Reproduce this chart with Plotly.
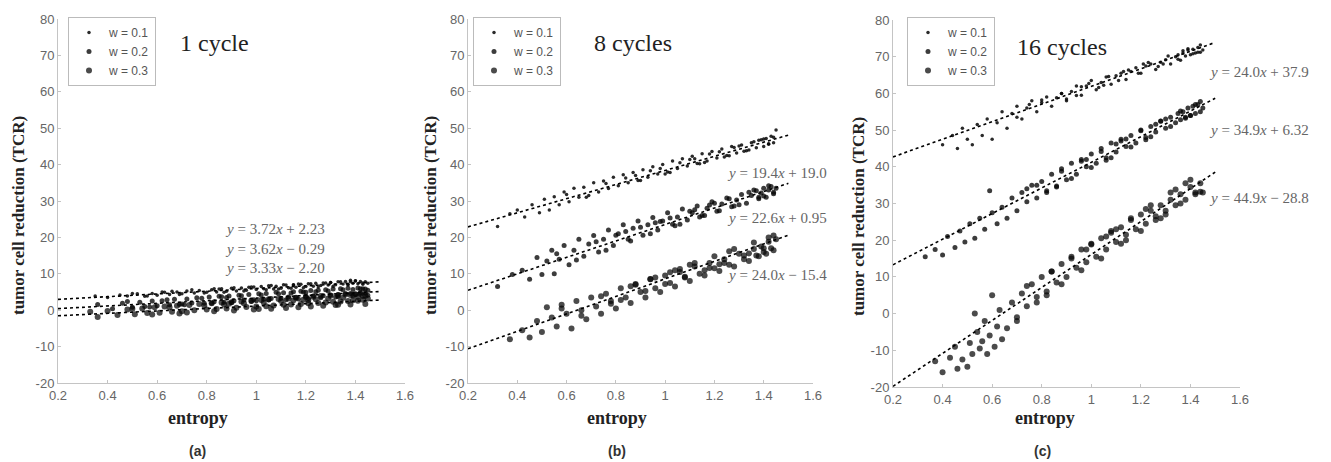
import plotly.graph_objects as go

# ---------------- data ----------------
weights = ["w = 0.1", "w = 0.2", "w = 0.3"]
panel_titles = ["1 cycle", "8 cycles", "16 cycles"]
panel_tags = ["(a)", "(b)", "(c)"]

x_ticks = [0.2, 0.4, 0.6, 0.8, 1.0, 1.2, 1.4, 1.6]
x_tick_labels = ["0.2", "0.4", "0.6", "0.8", "1", "1.2", "1.4", "1.6"]
y_ticks = [-20, -10, 0, 10, 20, 30, 40, 50, 60, 70, 80]
y_tick_labels = ["-20", "-10", "0", "10", "20", "30", "40", "50", "60", "70", "80"]

# fitted lines: slope, intercept (from the equations on the chart)
fit_a = [(3.72, 2.23), (3.62, -0.29), (3.33, -2.20)]
fit_b = [(19.4, 19.0), (22.6, 0.95), (24.0, -15.4)]
fit_c = [(24.0, 37.9), (34.9, 6.32), (44.9, -28.8)]
fit_x_range = [0.2, 1.5]

eq_a = ["<i>y</i> = 3.72<i>x</i> + 2.23", "<i>y</i> = 3.62<i>x</i> − 0.29", "<i>y</i> = 3.33<i>x</i> − 2.20"]
eq_b = ["<i>y</i> = 19.4<i>x</i> + 19.0", "<i>y</i> = 22.6<i>x</i> + 0.95", "<i>y</i> = 24.0<i>x</i> − 15.4"]
eq_c = ["<i>y</i> = 24.0<i>x</i> + 37.9", "<i>y</i> = 34.9<i>x</i> + 6.32", "<i>y</i> = 44.9<i>x</i> − 28.8"]

# ---- panel (a): 1 cycle ----
a1_x = [0.35,0.40,0.45,0.48,0.52,0.55,0.58,0.60,0.63,0.65,0.68,0.70,0.72,0.75,0.77,0.80,0.82,0.84,0.86,0.88,0.90,0.92,0.94,0.96,0.98,1.00,1.02,1.03,1.05,1.07,1.08,1.10,1.12,1.13,1.15,1.16,1.18,1.20,1.21,1.23,1.24,1.26,1.27,1.29,1.30,1.32,1.33,1.35,1.36,1.37,1.38,1.39,1.40,1.41,1.42,1.43,1.44,1.45,
        0.50,0.56,0.62,0.69,0.74,0.79,0.83,0.87,0.91,0.95,0.99,1.04,1.06,1.09,1.11,1.14,1.17,1.19,1.22,1.25,1.28,1.31,1.34,1.37,1.40,1.43,0.66,0.85,0.97,1.15,1.30,1.38]
a1_y = [3.9,3.5,4.2,3.9,4.5,3.8,4.6,4.1,4.9,4.3,5.0,4.5,5.3,4.7,5.4,4.9,5.6,5.0,5.9,5.2,6.0,5.3,6.1,5.5,6.4,5.7,6.5,5.9,6.7,5.8,6.6,6.0,6.9,6.2,7.0,6.3,7.1,6.5,7.3,6.6,7.4,6.8,7.5,6.9,7.6,7.0,7.8,7.2,7.9,7.1,8.2,7.4,8.0,7.3,7.9,7.5,7.8,7.4,
        4.6,3.9,5.0,4.3,5.6,4.7,5.9,4.9,6.2,5.3,6.4,5.6,6.8,5.8,7.0,6.0,7.2,6.2,7.3,6.4,7.5,6.6,7.8,6.9,8.1,7.1,5.2,5.8,6.3,6.9,7.6,7.8]
a2_x = [0.36,0.42,0.46,0.50,0.53,0.55,0.58,0.60,0.62,0.65,0.67,0.70,0.72,0.74,0.76,0.79,0.81,0.83,0.85,0.87,0.89,0.91,0.93,0.95,0.97,0.99,1.01,1.03,1.04,1.06,1.08,1.10,1.11,1.13,1.15,1.16,1.18,1.20,1.22,1.23,1.25,1.27,1.28,1.30,1.31,1.33,1.34,1.36,1.37,1.38,1.39,1.40,1.41,1.42,1.43,1.44,1.45,
        0.48,0.57,0.64,0.71,0.78,0.82,0.86,0.90,0.94,0.98,1.02,1.05,1.09,1.12,1.14,1.17,1.19,1.21,1.24,1.26,1.29,1.32,1.35,1.39,1.42,1.45,0.69,0.88,1.00,1.20,1.33,1.44]
a2_y = [1.6,0.4,1.9,0.8,2.2,1.0,2.5,1.2,2.6,1.5,3.0,1.7,3.1,2.0,3.4,1.9,3.6,2.3,3.8,2.2,3.9,2.6,4.1,2.8,4.3,2.9,4.5,3.0,4.6,3.2,4.9,3.3,4.8,3.6,5.1,3.5,5.2,3.8,5.4,3.9,5.5,4.0,5.6,4.2,5.8,4.3,5.9,4.5,6.0,4.6,5.7,4.4,6.1,4.8,5.9,4.7,5.5,
        2.4,0.9,2.9,1.5,3.3,1.9,3.7,2.1,4.0,2.4,4.2,2.8,4.5,2.9,4.7,3.1,5.0,3.2,5.1,3.4,5.3,3.6,5.6,3.9,5.9,4.1,1.6,3.5,2.6,4.9,3.7,5.8]
a3_x = [0.33,0.36,0.40,0.44,0.48,0.51,0.54,0.56,0.59,0.61,0.63,0.66,0.68,0.70,0.73,0.75,0.77,0.80,0.82,0.84,0.86,0.88,0.90,0.92,0.94,0.96,0.98,1.00,1.02,1.04,1.05,1.07,1.09,1.11,1.13,1.14,1.16,1.18,1.20,1.21,1.23,1.25,1.26,1.28,1.30,1.31,1.33,1.34,1.36,1.37,1.38,1.39,1.40,1.41,1.42,1.43,1.44,1.45,
        0.50,0.58,0.65,0.72,0.79,0.83,0.87,0.91,0.95,0.99,1.03,1.06,1.10,1.12,1.15,1.17,1.19,1.22,1.24,1.27,1.29,1.32,1.35,1.38,1.41,1.44,0.69,0.89,1.01,1.21,1.33,1.43]
a3_y = [-0.4,-1.9,-0.2,-1.3,0.2,-1.1,0.5,-0.8,0.8,-0.7,1.0,-0.4,1.2,-0.3,1.4,0.0,1.7,0.2,1.9,0.3,2.1,0.5,2.2,0.7,2.4,0.9,2.6,1.0,2.8,1.1,3.0,1.3,3.1,1.5,3.2,1.6,3.4,1.7,3.6,1.9,3.7,2.0,3.9,2.1,4.0,2.3,4.1,2.4,4.3,2.5,4.2,2.7,4.4,2.6,4.5,2.9,4.0,3.2,
        0.4,-1.2,0.8,-0.6,1.3,-0.3,1.6,-0.1,1.9,0.2,2.1,0.4,2.5,0.6,2.7,0.8,2.9,1.0,3.0,1.2,3.2,1.4,3.4,1.6,3.6,1.7,-0.9,1.8,0.3,2.8,1.5,3.9]

# ---- panel (b): 8 cycles ----
b1_x = [0.32,0.37,0.40,0.43,0.46,0.49,0.51,0.53,0.55,0.57,0.59,0.61,0.63,0.65,0.67,0.69,0.71,0.73,0.75,0.77,0.79,0.81,0.83,0.85,0.87,0.89,0.91,0.93,0.95,0.97,0.99,1.01,1.03,1.05,1.07,1.09,1.11,1.13,1.15,1.17,1.19,1.21,1.23,1.25,1.27,1.29,1.31,1.33,1.35,1.37,1.39,1.40,1.41,1.42,1.43,1.44,1.45,
        0.60,0.68,0.76,0.84,0.90,0.94,0.98,1.02,1.06,1.10,1.14,1.18,1.22,1.26,1.30,1.34,1.38,1.42,1.00,1.12,1.24,1.36,1.44,0.88,1.16,1.28,1.32,1.40]
b1_y = [23.0,26.5,27.5,25.6,29.0,26.8,30.5,27.5,31.2,29.0,32.5,29.8,33.5,31.0,33.8,31.5,35.0,32.5,35.5,33.4,36.5,34.2,37.2,35.0,37.8,35.6,38.6,36.5,39.4,37.4,40.0,38.0,41.0,38.9,41.6,39.6,42.3,40.3,43.0,41.0,43.6,41.8,44.3,42.5,45.0,43.2,45.4,43.8,46.0,44.6,46.8,45.0,47.2,45.6,47.8,46.0,49.5,
        31.8,31.0,34.8,36.3,35.6,38.3,38.9,37.8,40.5,41.4,40.2,42.9,43.5,42.4,45.1,44.0,46.7,45.7,37.4,41.6,42.1,46.3,47.5,37.0,40.6,44.7,43.7,47.0]
b2_x = [0.32,0.38,0.42,0.45,0.48,0.50,0.52,0.54,0.55,0.57,0.59,0.61,0.63,0.65,0.67,0.69,0.71,0.73,0.75,0.77,0.79,0.81,0.83,0.85,0.87,0.89,0.91,0.93,0.95,0.97,0.99,1.01,1.03,1.05,1.07,1.09,1.11,1.13,1.15,1.17,1.19,1.21,1.23,1.25,1.27,1.29,1.31,1.33,1.35,1.37,1.38,1.39,1.40,1.41,1.42,1.43,1.44,1.45,
        0.56,0.64,0.72,0.80,0.86,0.90,0.94,0.98,1.02,1.06,1.10,1.14,1.18,1.22,1.26,1.30,1.34,1.38,1.42,1.44,0.96,1.04,1.12,1.20,1.28,1.36,1.40,0.84,0.76,1.16]
b2_y = [6.5,9.8,11.0,8.5,14.5,9.8,13.5,16.5,10.0,14.0,17.8,12.5,16.5,19.5,14.8,18.2,20.5,16.0,19.5,22.0,17.8,21.0,23.5,19.5,22.5,24.5,20.6,23.5,25.5,22.0,24.5,26.8,23.6,25.6,27.8,24.8,26.8,28.6,26.0,28.0,29.8,27.2,29.2,30.8,28.4,30.3,31.8,29.4,31.5,32.8,30.6,32.2,33.5,31.0,33.0,34.0,32.0,33.5,
        15.5,13.8,18.8,20.6,19.0,22.8,21.0,24.4,25.3,23.6,27.2,25.6,28.9,27.3,30.6,29.0,32.4,31.0,34.2,32.4,24.0,23.2,27.6,29.4,28.6,33.0,31.4,21.6,16.5,26.0]
b3_x = [0.37,0.42,0.45,0.48,0.50,0.52,0.54,0.56,0.58,0.60,0.62,0.64,0.66,0.68,0.70,0.72,0.74,0.76,0.78,0.80,0.82,0.84,0.86,0.88,0.90,0.92,0.94,0.96,0.98,1.00,1.02,1.04,1.06,1.08,1.10,1.12,1.14,1.16,1.18,1.20,1.22,1.24,1.26,1.28,1.30,1.32,1.34,1.36,1.37,1.38,1.39,1.40,1.41,1.42,1.43,1.44,1.45,
        0.58,0.66,0.74,0.82,0.88,0.92,0.96,1.00,1.04,1.08,1.12,1.16,1.20,1.24,1.28,1.32,1.36,1.40,1.44,0.94,1.02,1.10,1.18,1.26,1.34,1.42,0.78,0.86,1.06,1.22]
b3_y = [-8.0,-5.5,-7.5,-3.0,-6.0,0.8,-2.0,-4.5,1.5,-1.0,-5.0,2.5,0.0,-2.5,3.5,1.0,-1.0,4.5,2.5,0.5,6.0,3.5,2.0,7.0,5.0,3.5,8.5,6.0,5.0,9.5,7.5,6.5,10.5,9.0,8.0,12.0,10.0,9.5,13.0,11.5,10.8,14.0,12.5,12.0,15.5,14.0,13.5,16.8,15.0,14.8,17.5,16.0,15.5,18.8,17.0,16.5,19.5,
        0.5,-1.5,3.8,2.8,7.2,5.3,9.0,7.2,11.0,9.2,13.0,11.0,14.8,13.0,16.8,15.0,18.6,17.0,20.5,8.6,10.4,12.5,11.6,16.2,15.6,20.0,1.8,6.6,11.3,12.6]

# ---- panel (c): 16 cycles ----
c1_x = [0.40,0.44,0.46,0.48,0.50,0.52,0.54,0.56,0.58,0.60,0.62,0.64,0.66,0.68,0.70,0.72,0.74,0.76,0.78,0.80,0.82,0.84,0.86,0.88,0.90,0.92,0.94,0.96,0.98,1.00,1.02,1.04,1.06,1.08,1.10,1.12,1.14,1.16,1.18,1.20,1.22,1.24,1.26,1.28,1.30,1.32,1.34,1.35,1.36,1.37,1.38,1.39,1.40,1.41,1.42,1.43,1.44,1.45,
        0.70,0.80,0.88,0.94,0.99,1.03,1.07,1.11,1.15,1.19,1.23,1.27,1.31,1.35,1.39,1.43,0.96,1.05,1.13,1.21,1.29,1.37,1.41,1.44,0.75,0.90]
c1_y = [46.0,48.5,45.0,50.5,47.5,46.0,51.5,48.5,53.0,47.5,52.0,55.0,50.5,54.5,56.5,53.0,56.0,58.0,55.0,57.5,59.0,56.5,58.8,60.0,58.0,60.5,62.0,59.5,62.0,63.5,61.0,63.0,64.5,62.5,64.8,65.5,63.8,66.0,67.0,65.5,67.5,68.0,66.5,68.5,69.2,68.0,70.0,70.5,69.0,71.0,70.2,71.8,70.5,72.0,71.0,72.5,71.2,71.8,
        53.5,58.2,60.0,59.4,62.7,61.6,64.6,63.5,66.4,65.5,68.4,67.3,70.2,69.3,72.2,71.2,61.8,62.2,66.0,68.0,68.0,71.6,70.8,73.2,57.0,58.5]
c2_x = [0.33,0.37,0.40,0.42,0.45,0.47,0.49,0.51,0.53,0.55,0.57,0.59,0.60,0.62,0.64,0.66,0.68,0.70,0.72,0.74,0.76,0.78,0.80,0.82,0.84,0.86,0.88,0.90,0.92,0.94,0.96,0.98,1.00,1.02,1.04,1.06,1.08,1.10,1.12,1.14,1.16,1.18,1.20,1.22,1.24,1.26,1.28,1.30,1.32,1.34,1.35,1.36,1.37,1.38,1.39,1.40,1.41,1.42,1.43,1.44,1.45,
        0.74,0.82,0.88,0.92,0.96,1.00,1.04,1.08,1.12,1.16,1.20,1.24,1.28,1.32,1.36,1.40,1.44,0.98,1.06,1.14,1.22,1.30,1.38,1.42,0.86,0.78,1.10,1.26]
c2_y = [15.5,17.5,16.0,21.0,18.0,22.5,19.5,24.5,20.5,26.0,23.0,33.5,27.5,24.5,29.0,26.0,31.5,28.0,33.0,30.5,35.0,31.5,36.0,33.5,38.0,34.5,39.5,36.5,41.0,38.0,42.0,40.0,43.5,41.0,45.0,42.5,46.5,44.0,47.5,45.5,48.5,46.5,50.0,48.0,51.0,49.5,52.5,50.5,53.5,52.0,54.5,52.8,55.0,53.5,56.0,54.0,56.5,54.5,57.0,55.0,56.0,
        34.0,33.0,38.8,36.8,41.5,39.8,44.2,42.5,47.0,45.4,49.8,48.2,52.4,51.0,55.2,54.0,57.8,42.0,41.8,47.6,47.4,53.0,53.2,57.0,34.8,35.0,46.2,51.6]
c3_x = [0.37,0.40,0.43,0.45,0.46,0.48,0.50,0.51,0.52,0.53,0.54,0.55,0.56,0.57,0.58,0.59,0.60,0.61,0.62,0.63,0.64,0.66,0.68,0.70,0.72,0.74,0.76,0.78,0.80,0.82,0.84,0.86,0.88,0.90,0.92,0.94,0.96,0.98,1.00,1.02,1.04,1.06,1.08,1.10,1.12,1.14,1.16,1.18,1.20,1.22,1.24,1.26,1.28,1.30,1.32,1.34,1.36,1.38,1.40,1.42,1.44,1.45,
        0.78,0.84,0.88,0.92,0.96,1.00,1.04,1.08,1.12,1.16,1.20,1.24,1.28,1.32,1.36,1.40,1.44,0.98,1.06,1.14,1.22,1.30,1.38,1.42,0.74,0.82,0.70,1.10,1.26,1.34]
c3_y = [-13.0,-16.0,-12.0,-9.0,-15.0,-12.5,-14.5,-8.0,-11.0,0.0,-5.0,-9.5,-7.5,-2.0,-11.0,-6.0,5.0,-9.0,-3.5,1.0,-7.0,-4.0,3.0,-1.0,5.5,2.0,8.0,4.5,10.0,6.0,11.5,8.5,13.5,10.0,15.0,12.5,17.5,14.0,19.0,15.5,20.5,17.5,22.0,19.5,23.5,21.5,25.5,23.0,27.0,24.5,28.0,26.5,29.5,28.0,31.0,29.5,32.5,31.0,34.5,32.5,35.5,33.0,
        3.0,11.5,8.0,15.5,11.8,18.8,15.0,22.5,19.0,26.0,22.5,29.5,26.0,33.0,30.0,36.5,33.2,17.5,21.0,20.0,28.5,27.0,35.5,33.0,7.5,5.0,-2.0,23.0,25.5,33.8]

panels = [
    dict(pts=[(a1_x, a1_y), (a2_x, a2_y), (a3_x, a3_y)], fit=fit_a, eq=eq_a),
    dict(pts=[(b1_x, b1_y), (b2_x, b2_y), (b3_x, b3_y)], fit=fit_b, eq=eq_b),
    dict(pts=[(c1_x, c1_y), (c2_x, c2_y), (c3_x, c3_y)], fit=fit_c, eq=eq_c),
]

# ---------------- layout / style ----------------
PAGE_OFF = 8                      # default page margin around the plot div
W, H = 1331 - PAGE_OFF, 462 - PAGE_OFF


def px(xp):
    return (xp - PAGE_OFF) / W


def py(yp):
    return 1 - (yp - PAGE_OFF) / H


x_domains = [(58, 405), (468, 813), (893, 1240)]      # page pixels
y_domains = [(19, 383), (19, 383), (20, 387)]
legend_pos = [(68, 17), (473, 17), (907, 17)]
title_pos = [(0.83, 73.4), (0.87, 73.4), (0.88, 72.6)]
eq_pos = [(0.866, [22.4, 16.9, 11.7]), (1.243, [37.6, 25.2, 9.8]), (1.467, [65.8, 49.9, 31.4])]
xlabel_px = [198, 617, 1045]
ylabel_px = [18, 430, 858]
tag_px = [197, 617, 1042]

marker_sizes = [3.5, 5, 6]
marker_colors = ["rgba(5,5,5,0.85)", "rgba(5,5,5,0.78)", "rgba(5,5,5,0.72)"]

SERIF = "Liberation Serif, Times New Roman, serif"
SANS = "Liberation Sans, Arial, Helvetica, sans-serif"

fig = go.Figure()
layout = dict(template="none", width=W, height=H,
              margin=dict(l=0, r=0, t=0, b=0, pad=0, autoexpand=False),
              paper_bgcolor="white", plot_bgcolor="white", annotations=[],
              font=dict(family=SANS, size=12, color="#555"))

for i, p in enumerate(panels):
    sfx = "" if i == 0 else str(i + 1)
    xa, ya = "x" + sfx, "y" + sfx
    leg = "legend" + sfx
    for j, (xs, ys) in enumerate(p["pts"]):
        fig.add_trace(go.Scatter(
            x=xs, y=ys, mode="markers", name=weights[j], xaxis=xa, yaxis=ya,
            legend=leg,
            marker=dict(size=marker_sizes[j], color=marker_colors[j], line=dict(width=0)),
        ))
    for j, (m, b) in enumerate(p["fit"]):
        fig.add_trace(go.Scatter(
            x=fit_x_range, y=[m * v + b for v in fit_x_range], mode="lines",
            xaxis=xa, yaxis=ya, showlegend=False, hoverinfo="skip",
            line=dict(color="black", width=1.6, dash="dot"),
        ))
    x0, x1 = x_domains[i]
    y0, y1 = y_domains[i]
    axis_common = dict(showline=True, linecolor="#c4c4c4", linewidth=1, ticks="inside",
                       ticklen=3, tickcolor="#c4c4c4", showgrid=False, zeroline=False,
                       automargin=False,
                       tickfont=dict(family=SANS, size=13, color="#666"), mirror=False)
    layout["xaxis" + sfx] = dict(domain=[px(x0), px(x1)], range=[0.2, 1.6], anchor=ya,
                                 tickvals=x_ticks, ticktext=x_tick_labels, **axis_common)
    layout["yaxis" + sfx] = dict(domain=[py(y1), py(y0)], range=[-20, 80], anchor=xa,
                                 tickvals=y_ticks, ticktext=y_tick_labels, **axis_common)
    lx, ly = legend_pos[i]
    layout[leg] = dict(x=px(lx), y=py(ly), xanchor="left", yanchor="top",
                       bgcolor="white", bordercolor="#bbbbbb", borderwidth=1,
                       font=dict(family=SANS, size=12, color="#555"),
                       itemsizing="trace", tracegroupgap=0, itemwidth=30)
    tx, ty = title_pos[i]
    layout["annotations"].append(dict(text=panel_titles[i], x=tx, y=ty, xref=xa, yref=ya,
                                      xanchor="center", yanchor="middle",
                                      showarrow=False, font=dict(family=SERIF, size=24, color="#222")))
    ex, eys = eq_pos[i]
    for k, txt in enumerate(p["eq"]):
        layout["annotations"].append(dict(text=txt, x=ex, y=eys[k], xref=xa, yref=ya,
                                          xanchor="left", yanchor="middle",
                                          showarrow=False, font=dict(family=SERIF, size=15, color="#666")))
    layout["annotations"].append(dict(text="<b>entropy</b>", x=px(xlabel_px[i]), y=py(418),
                                      xref="paper", yref="paper", xanchor="center", yanchor="middle",
                                      showarrow=False, font=dict(family=SERIF, size=18, color="#222")))
    layout["annotations"].append(dict(text="<b>tumor cell reduction (TCR)</b>", x=px(ylabel_px[i]),
                                      y=py(216), xref="paper", yref="paper",
                                      xanchor="center", yanchor="middle", showarrow=False,
                                      textangle=-90, font=dict(family=SERIF, size=17, color="#222")))
    layout["annotations"].append(dict(text="<b>" + panel_tags[i] + "</b>", x=px(tag_px[i]), y=py(451),
                                      xref="paper", yref="paper", xanchor="center", yanchor="middle",
                                      showarrow=False, font=dict(family=SANS, size=14, color="#333")))

fig.update_layout(**layout)
fig.write_html("out.html")
